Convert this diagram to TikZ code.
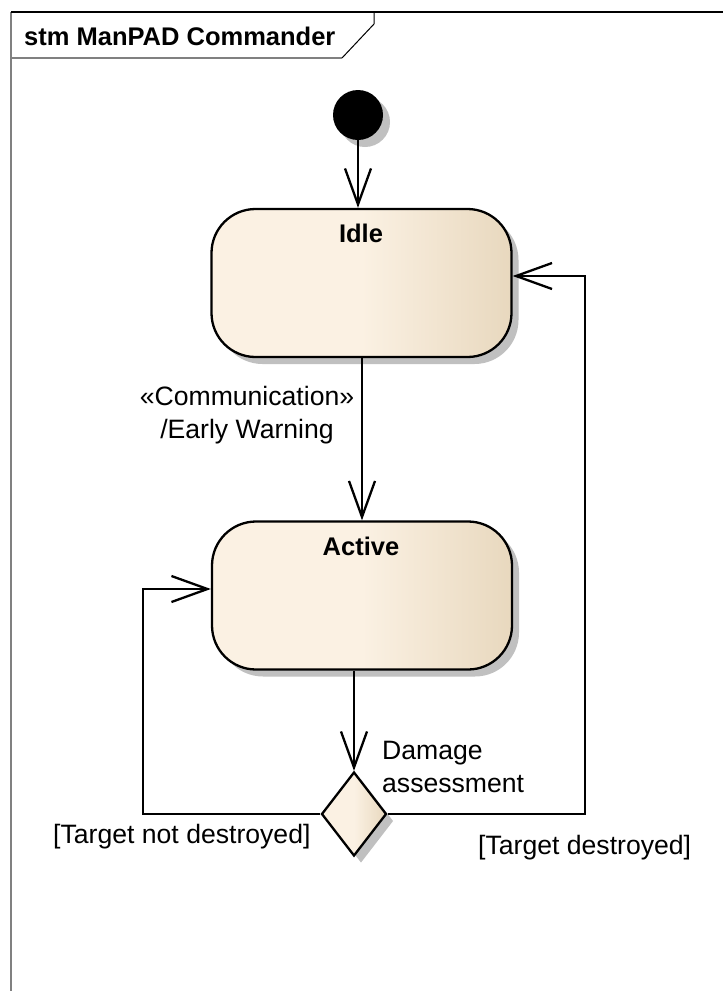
\documentclass[tikz,border=0pt]{standalone}
\usepackage{fontspec}
\setmainfont{Liberation Sans}
\usetikzlibrary{arrows.meta,shapes.geometric}
\definecolor{cream}{RGB}{251,241,227}
\definecolor{tanc}{RGB}{232,216,190}
\definecolor{shadowgray}{RGB}{192,192,192}
\definecolor{framegray}{RGB}{128,128,128}
\pgfdeclarehorizontalshading{eashade}{100bp}{color(0bp)=(cream); color(50bp)=(cream); color(75bp)=(tanc); color(100bp)=(tanc)}
\tikzset{
  shadowed/.style={preaction={fill=shadowgray, transform canvas={shift={(7pt,-7pt)}}}},
  statebox/.style={shadowed, draw=black, line width=2.3pt, rounded corners=44pt,
    minimum width=300pt, minimum height=148pt, inner sep=0pt, shade, shading=eashade},
  initnode/.style={shadowed, circle, fill=black, minimum size=50pt, inner sep=0pt},
  decnode/.style={shadowed, diamond, draw=black, line width=2.3pt, minimum width=65pt,
    minimum height=84pt, inner sep=0pt, shade, shading=eashade},
  conn/.style={draw=black, line width=2.3pt, -{Straight Barb[length=36pt,width=26pt]}},
  txt/.style={font=\fontsize{26.6}{33}\selectfont, inner sep=0pt},
  boldtxt/.style={font=\bfseries\fontsize{25.5}{30}\selectfont, inner sep=0pt},
}
\begin{document}
\begin{tikzpicture}[x=1pt,y=-1pt]
\useasboundingbox[fill=white] (0,0) rectangle (723,991);
% frame
\draw[framegray, line width=1.3pt] (11,991) -- (11,12);
\draw[black, line width=1.2pt] (11,12) -- (723,12);
\draw[framegray, line width=1.3pt] (11,58) -- (342,58);
\draw[black, line width=1pt] (342,58) -- (374,24) -- (374,12);
\node[boldtxt, anchor=base west] (title) at (24,45) {stm ManPAD Commander};
% nodes
\node[initnode] (init) at (358,115) {};
\node[statebox] (idle) at (361.5,283) {};
\node[boldtxt, anchor=base] (idlet) at (361,242) {Idle};
\node[statebox] (active) at (362,595.5) {};
\node[boldtxt, anchor=base] (activet) at (361,555) {Active};
\node[decnode] (dec) at (354,814) {};
% connectors
\draw[conn] (init) -- (init |- idle.north);
\coordinate (ia) at (362,450);
\draw[conn] (ia |- idle.south) -- (ia |- active.north);
\draw[conn] (dec |- active.south) -- (dec.north);
\coordinate (lb) at (143,589);
\draw[conn] (dec.west) -| (lb) -- (lb -| active.west);
\coordinate (rb) at (585,276);
\draw[conn] (dec.east) -| (rb) -- (rb -| idle.east);
% labels
\node[txt, align=center, anchor=north] (comm) at (247,386) {«Communication»\\/Early Warning};
\node[txt, align=left, anchor=north west] (dmg) at (382,741) {Damage\\assessment};
\node[txt, anchor=base west] (tnd) at (53,843) {[Target not destroyed]};
\node[txt, anchor=base west] (td) at (478,854) {[Target destroyed]};
\end{tikzpicture}
\end{document}
